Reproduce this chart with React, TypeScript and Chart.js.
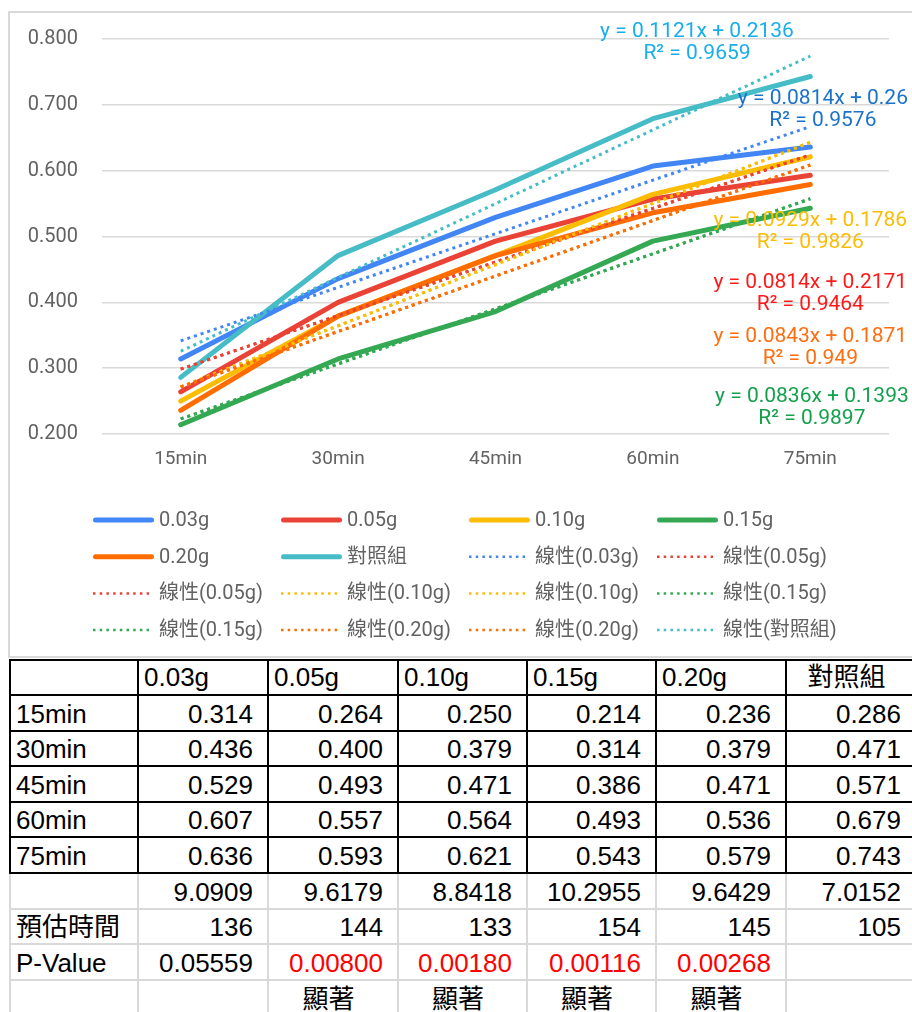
import React, { useEffect, useRef } from 'react';
import { Chart, registerables } from 'chart.js';

Chart.register(...registerables);

// Sampling times (x axis) and group names
const timeLabels = ['15min', '30min', '45min', '60min', '75min'];
const groupNames = ['0.03g', '0.05g', '0.10g', '0.15g', '0.20g', '對照組'];

// Measured values per group
const values003 = [0.314, 0.436, 0.529, 0.607, 0.636];
const values005 = [0.264, 0.4, 0.493, 0.557, 0.593];
const values010 = [0.25, 0.379, 0.471, 0.564, 0.621];
const values015 = [0.214, 0.314, 0.386, 0.493, 0.543];
const values020 = [0.236, 0.379, 0.471, 0.536, 0.579];
const valuesControl = [0.286, 0.471, 0.571, 0.679, 0.743];
const groupValues = [values003, values005, values010, values015, values020, valuesControl];

// Linear trendline coefficients (y = slope * x + intercept, x = 1..5)
const trendSlopes = [0.0814, 0.0814, 0.0929, 0.0836, 0.0843, 0.1121];
const trendIntercepts = [0.26, 0.2171, 0.1786, 0.1393, 0.1871, 0.2136];
const trendR2 = [0.9576, 0.9464, 0.9826, 0.9897, 0.949, 0.9659];
// How many trendlines each group carries in the legend
const trendCounts = [1, 2, 2, 2, 2, 1];

// Table rows below the chart
const coefficientRow = ['9.0909', '9.6179', '8.8418', '10.2955', '9.6429', '7.0152'];
const estimatedMinutes = [136, 144, 133, 154, 145, 105];
const pValues = ['0.05559', '0.00800', '0.00180', '0.00116', '0.00268', ''];
const significant = [false, true, true, true, true, false];

const seriesColors = ['#4285F4', '#EA4335', '#FBBC04', '#34A853', '#FF6D01', '#46BDC6'];
const equationColors = ['#1b72cb', '#ff1a1a', '#fbbc04', '#14a04c', '#ff6d0f', '#17aeea'];
// Equation label anchors: [category index, value]
const equationAnchors = [
  [4.08, 0.7085],
  [4.0, 0.4305],
  [4.0, 0.5245],
  [4.01, 0.2565],
  [4.0, 0.3478],
  [3.28, 0.811],
];

const FONT = 'Roboto, "Noto Sans CJK TC", sans-serif';
const TEXT_GREY = '#626262';

const buildDatasets = () => {
  const series = groupNames.map((name, i) => ({
    label: name,
    data: groupValues[i],
    borderColor: seriesColors[i],
    backgroundColor: seriesColors[i],
    borderWidth: 5,
    pointRadius: 0,
    tension: 0,
    borderCapStyle: 'round',
    borderJoinStyle: 'round',
    order: 100 - i,
  }));
  const trends: any[] = [];
  groupNames.forEach((name, i) => {
    for (let k = 0; k < trendCounts[i]; k++) {
      trends.push({
        label: `線性(${name})`,
        data: timeLabels.map((_, j) => trendSlopes[i] * (j + 1) + trendIntercepts[i]),
        borderColor: seriesColors[i],
        backgroundColor: seriesColors[i],
        borderWidth: 3,
        borderDash: [3, 4],
        borderCapStyle: 'butt',
        pointRadius: 0,
        tension: 0,
        order: 50 - trends.length,
      });
    }
  });
  return [...series, ...trends];
};

// Four-column legend under the plot
const gridLegend = {
  id: 'gridLegend',
  afterDraw(chart: any) {
    const { ctx, chartArea } = chart;
    ctx.save();
    chart.data.datasets.forEach((d: any, i: number) => {
      const col = i % 4;
      const row = Math.floor(i / 4);
      const x0 = chartArea.left - 9 + col * 188;
      const y = chartArea.bottom + 86 + row * 36.7;
      ctx.strokeStyle = d.borderColor;
      ctx.beginPath();
      if (d.borderDash) {
        ctx.lineWidth = 2.5;
        ctx.lineCap = 'butt';
        ctx.setLineDash([2.5, 4.2]);
        ctx.moveTo(x0, y);
        ctx.lineTo(x0 + 56, y);
      } else {
        ctx.lineWidth = 5;
        ctx.lineCap = 'round';
        ctx.setLineDash([]);
        ctx.moveTo(x0 + 2.5, y);
        ctx.lineTo(x0 + 58.5, y);
      }
      ctx.stroke();
      ctx.setLineDash([]);
      ctx.fillStyle = TEXT_GREY;
      ctx.font = `20px ${FONT}`;
      ctx.textAlign = 'left';
      ctx.textBaseline = 'middle';
      ctx.fillText(d.label, x0 + 66, y + 1);
    });
    ctx.restore();
  },
};

// Trendline equations and R² values
const equationLabels = {
  id: 'equationLabels',
  afterDatasetsDraw(chart: any) {
    const { ctx } = chart;
    const xs = chart.scales.x;
    const ys = chart.scales.y;
    ctx.save();
    ctx.font = `21px ${FONT}`;
    ctx.textAlign = 'center';
    ctx.textBaseline = 'middle';
    groupNames.forEach((_, i) => {
      const x = xs.getPixelForValue(equationAnchors[i][0]);
      const y = ys.getPixelForValue(equationAnchors[i][1]);
      ctx.fillStyle = equationColors[i];
      ctx.fillText(`y = ${trendSlopes[i]}x + ${trendIntercepts[i]}`, x, y);
      ctx.fillText(`R² = ${trendR2[i]}`, x, y + 22);
    });
    ctx.restore();
  },
};

const colX = [10, 138, 268, 398, 527, 656, 786, 916];
const rowY = [660, 695, 731, 766, 802, 837, 873, 909, 944, 980, 1016];

type Cell = { text: string; align: 'left' | 'right' | 'center'; color?: string };

const buildTableCells = (): Cell[][] => {
  const rows: Cell[][] = [];
  rows.push([
    { text: '', align: 'left' },
    ...groupNames.map((n, i) => ({ text: n, align: (i === 5 ? 'center' : 'left') as Cell['align'] })),
  ]);
  timeLabels.forEach((t, r) => {
    rows.push([
      { text: t, align: 'left' },
      ...groupValues.map((v) => ({ text: v[r].toFixed(3), align: 'right' as const })),
    ]);
  });
  rows.push([{ text: '', align: 'left' }, ...coefficientRow.map((t) => ({ text: t, align: 'right' as const }))]);
  rows.push([
    { text: '預估時間', align: 'left' },
    ...estimatedMinutes.map((m) => ({ text: String(m), align: 'right' as const })),
  ]);
  rows.push([
    { text: 'P-Value', align: 'left' },
    ...pValues.map((p, i) => ({ text: p, align: 'right' as const, color: significant[i] ? '#ff0000' : '#000' })),
  ]);
  rows.push([
    { text: '', align: 'left' },
    ...significant.map((s) => ({ text: s ? '顯著' : '', align: 'center' as const })),
  ]);
  return rows;
};

function DataTable() {
  const rows = buildTableCells();
  const lines: React.ReactNode[] = [];
  // black grid around the measured block
  for (let r = 0; r <= 6; r++) {
    lines.push(
      <div key={`bh${r}`} style={{ position: 'absolute', left: colX[0] - 1, top: rowY[r] - 1, width: colX[7] - colX[0] + 2, height: 2, background: '#000' }} />
    );
  }
  colX.forEach((x, c) => {
    lines.push(
      <div key={`bv${c}`} style={{ position: 'absolute', left: x - 1, top: rowY[0] - 1, width: 2, height: rowY[6] - rowY[0] + 2, background: '#000' }} />
    );
    lines.push(
      <div key={`gv${c}`} style={{ position: 'absolute', left: x - 1, top: rowY[6] + 1, width: 2, height: rowY[10] - rowY[6], background: '#d9d9d9' }} />
    );
  });
  for (let r = 7; r <= 10; r++) {
    lines.push(
      <div key={`gh${r}`} style={{ position: 'absolute', left: colX[0] - 1, top: rowY[r] - 1, width: colX[7] - colX[0] + 2, height: 2, background: '#d9d9d9' }} />
    );
  }
  const cells: React.ReactNode[] = [];
  rows.forEach((row, r) => {
    row.forEach((cell, c) => {
      const h = rowY[r + 1] - rowY[r] - 2;
      cells.push(
        <div
          key={`c${r}-${c}`}
          style={{
            position: 'absolute',
            left: colX[c] + 1,
            top: rowY[r] + (r === 0 ? 1 : 2),
            width: colX[c + 1] - colX[c] - 2,
            height: h,
            lineHeight: `${h}px`,
            boxSizing: 'border-box',
            paddingLeft: 5,
            paddingRight: 14,
            textAlign: cell.align,
            color: cell.color || '#000',
            whiteSpace: 'nowrap',
            overflow: 'visible',
            fontSize: 26,
            fontFamily: 'Arial, "Liberation Sans", "Noto Sans CJK TC", sans-serif',
          }}
        >
          {cell.text}
        </div>
      );
    });
  });
  return (
    <>
      {cells}
      {lines}
    </>
  );
}

export default function App() {
  const canvasRef = useRef<HTMLCanvasElement>(null);

  useEffect(() => {
    if (!canvasRef.current) return;
    const chart = new Chart(canvasRef.current, {
      type: 'line',
      data: { labels: timeLabels, datasets: buildDatasets() as any },
      options: {
        animation: false,
        responsive: false,
        maintainAspectRatio: false,
        devicePixelRatio: 1,
        layout: { padding: { left: 0, right: 23, top: 26, bottom: 173 } },
        plugins: {
          legend: { display: false },
          tooltip: { enabled: false },
          title: { display: false },
        },
        scales: {
          x: {
            type: 'category',
            offset: true,
            grid: { display: false, drawTicks: false },
            border: { display: false },
            ticks: {
              color: TEXT_GREY,
              font: { family: FONT, size: 19 },
              padding: 14,
              maxRotation: 0,
              autoSkip: false,
            },
            afterFit: (s: any) => {
              s.height = 50;
            },
          },
          y: {
            min: 0.2,
            max: 0.8,
            grid: {
              color: '#d9d9d9',
              lineWidth: 1.5,
              drawTicks: true,
              tickLength: 24,
              tickColor: 'rgba(0,0,0,0)',
            },
            border: { display: false },
            ticks: {
              stepSize: 0.1,
              color: TEXT_GREY,
              font: { family: FONT, size: 20 },
              padding: 0,
              callback: (v: any) => Number(v).toFixed(3),
            },
            afterFit: (s: any) => {
              s.width = 92;
            },
          },
        },
      },
      plugins: [equationLabels, gridLegend],
    });
    return () => chart.destroy();
  }, []);

  return (
    <div style={{ position: 'relative', width: 912, height: 1012, overflow: 'hidden', background: '#fff' }}>
      <style>{'body{margin:0;overflow:hidden}'}</style>
      <div
        style={{
          position: 'absolute',
          left: 8,
          top: 11,
          width: 920,
          height: 647,
          border: '2px solid #d9d9d9',
          boxSizing: 'border-box',
        }}
      />
      <canvas
        ref={canvasRef}
        width={902}
        height={644}
        style={{ position: 'absolute', left: 10, top: 13, width: 902, height: 644 }}
      />
      <DataTable />
    </div>
  );
}
